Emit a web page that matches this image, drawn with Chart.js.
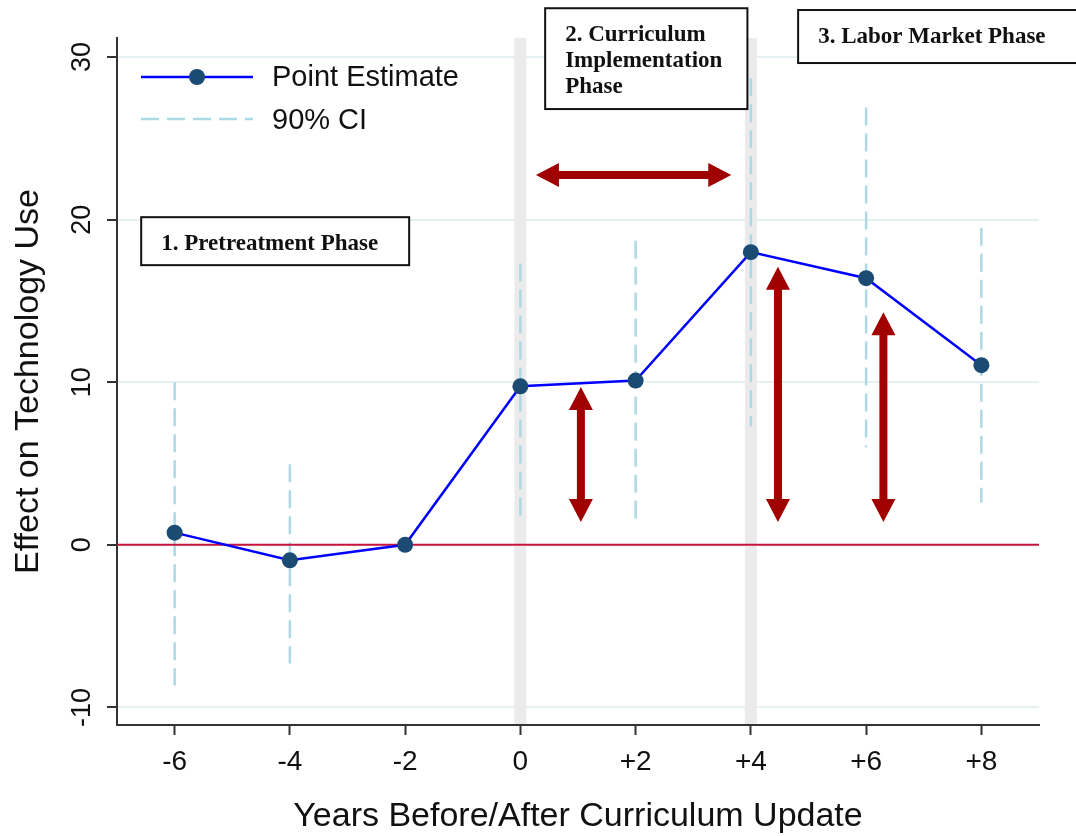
<!DOCTYPE html>
<html>
<head>
<meta charset="utf-8">
<script src="https://cdn.jsdelivr.net/npm/chart.js@4.4.0/dist/chart.umd.min.js"></script>
<style>
  html, body { margin: 0; padding: 0; background: #fff; }
  #wrap { width: 1076px; height: 836px; position: relative; }
</style>
</head>
<body>
<div id="wrap"><canvas id="eventChart"></canvas></div>
<script>
// ================= DATA =================
const years = [-6, -4, -2, 0, 2, 4, 6, 8];
const pointEstimate = [0.75, -0.95, 0, 9.75, 10.1, 18.0, 16.4, 11.05];
const ciLow = [-8.65, -7.3, null, 1.8, 1.6, 7.3, 6.0, 2.6];
const ciHigh = [10.0, 4.95, null, 17.3, 18.7, 28.7, 26.9, 19.5];
const xTicks = [-6, -4, -2, 0, 2, 4, 6, 8];
const yTicks = [-10, 0, 10, 20, 30];
const phaseBreaks = [0, 4];
const phaseLabels = [
  ["1. Pretreatment Phase"],
  ["2. Curriculum", "Implementation", "Phase"],
  ["3. Labor Market Phase"]
];

// ================= ANNOTATION PLACEMENT (data units) =================
const phaseBoxes = [
  { x1: -6.58, x2: -1.93, y1: 20.15, y2: 17.2 },
  { x1: 0.43, x2: 3.94, y1: 33.0, y2: 26.8 },
  { x1: 4.82, x2: 9.9, y1: 32.89, y2: 29.63 }
];
const vArrows = [
  { x: 1.05, from: 1.4, to: 9.7 },
  { x: 4.47, from: 1.4, to: 17.1 },
  { x: 6.3, from: 1.4, to: 14.3 }
];
const hArrow = { from: 0.27, to: 3.66, y: 22.74 };

const SANS = "'Liberation Sans', Arial, Helvetica, sans-serif";
const SERIF = "'Liberation Serif', 'Times New Roman', serif";

// ================= CI SEGMENTS =================
const ciPoints = [];
years.forEach((yr, i) => {
  if (ciLow[i] == null) return;
  ciPoints.push({ x: yr, y: ciHigh[i] }, { x: yr, y: ciLow[i] }, { x: yr, y: null });
});

// ================= HELPERS =================
function doubleArrow(ctx, x1, y1, x2, y2) {
  const len = Math.hypot(x2 - x1, y2 - y1);
  const ang = Math.atan2(y2 - y1, x2 - x1);
  const hl = 23, hw = 12, sw = 4;
  ctx.save();
  ctx.translate(x1, y1);
  ctx.rotate(ang);
  ctx.beginPath();
  ctx.moveTo(0, 0);
  ctx.lineTo(hl, -hw);
  ctx.lineTo(hl, -sw);
  ctx.lineTo(len - hl, -sw);
  ctx.lineTo(len - hl, -hw);
  ctx.lineTo(len, 0);
  ctx.lineTo(len - hl, hw);
  ctx.lineTo(len - hl, sw);
  ctx.lineTo(hl, sw);
  ctx.lineTo(hl, hw);
  ctx.closePath();
  ctx.fill();
  ctx.restore();
}

// ================= DECORATION PLUGIN =================
const decorPlugin = {
  id: "decor",
  beforeDatasetsDraw(chart) {
    const { ctx, chartArea, scales: { x } } = chart;
    ctx.save();
    ctx.fillStyle = "#ebebeb";
    phaseBreaks.forEach(v => {
      const px = x.getPixelForValue(v);
      ctx.fillRect(px - 6, chartArea.top, 12, chartArea.bottom - chartArea.top - 1);
    });
    ctx.restore();
  },
  afterDatasetDraw(chart, args) {
    // zero reference line sits above the CI dashes, below the estimate line
    if (args.index !== 1) return;
    const { ctx, chartArea, scales: { y } } = chart;
    const py = y.getPixelForValue(0);
    ctx.save();
    ctx.strokeStyle = "#c8143c";
    ctx.lineWidth = 2;
    ctx.beginPath();
    ctx.moveTo(chartArea.left, py);
    ctx.lineTo(chartArea.right, py);
    ctx.stroke();
    ctx.restore();
  },
  afterDatasetsDraw(chart) {
    const { ctx, chartArea, scales: { x, y } } = chart;
    ctx.save();

    // arrows
    ctx.fillStyle = "#a00000";
    vArrows.forEach(a => {
      const px = x.getPixelForValue(a.x);
      doubleArrow(ctx, px, y.getPixelForValue(a.to), px, y.getPixelForValue(a.from));
    });
    const hy = y.getPixelForValue(hArrow.y);
    doubleArrow(ctx, x.getPixelForValue(hArrow.from), hy, x.getPixelForValue(hArrow.to), hy);

    // phase boxes
    const lineOffsets = [33, 26];
    phaseBoxes.forEach((b, i) => {
      const l = x.getPixelForValue(b.x1), r = x.getPixelForValue(b.x2);
      const t = y.getPixelForValue(b.y1), btm = y.getPixelForValue(b.y2);
      ctx.fillStyle = "#ffffff";
      ctx.fillRect(l, t, r - l, btm - t);
      ctx.strokeStyle = "#111";
      ctx.lineWidth = 2;
      ctx.strokeRect(l, t, r - l, btm - t);
      ctx.fillStyle = "#111";
      ctx.font = "bold 23px " + SERIF;
      ctx.textAlign = "left";
      ctx.textBaseline = "alphabetic";
      phaseLabels[i].forEach((txt, k) => {
        ctx.fillText(txt, l + 20, t + lineOffsets[0] + k * lineOffsets[1]);
      });
    });

    // legend
    const lx = chartArea.left + 24;
    ctx.strokeStyle = "#0000ff";
    ctx.lineWidth = 2.5;
    ctx.beginPath();
    ctx.moveTo(lx, 77);
    ctx.lineTo(lx + 112, 77);
    ctx.stroke();
    ctx.fillStyle = "#1b4a72";
    ctx.beginPath();
    ctx.arc(lx + 56, 77, 8, 0, Math.PI * 2);
    ctx.fill();
    ctx.strokeStyle = "#add8e6";
    ctx.setLineDash([18, 8]);
    ctx.beginPath();
    ctx.moveTo(lx, 119);
    ctx.lineTo(lx + 112, 119);
    ctx.stroke();
    ctx.setLineDash([]);
    ctx.fillStyle = "#111";
    ctx.font = "29px " + SANS;
    ctx.textAlign = "left";
    ctx.textBaseline = "middle";
    ctx.fillText("Point Estimate", lx + 131, 78);
    ctx.fillText("90% CI", lx + 131, 121);
    ctx.restore();
  },
  afterDraw(chart) {
    // rotated y tick labels (Stata style)
    const { ctx, scales: { y } } = chart;
    ctx.save();
    ctx.fillStyle = "#111";
    ctx.font = "27px " + SANS;
    ctx.textAlign = "center";
    ctx.textBaseline = "middle";
    y.ticks.forEach(t => {
      ctx.save();
      ctx.translate(83, y.getPixelForValue(t.value));
      ctx.rotate(-Math.PI / 2);
      ctx.fillText(String(t.value), 0, 0);
      ctx.restore();
    });
    ctx.restore();
  }
};

// ================= CHART =================
new Chart(document.getElementById("eventChart"), {
  type: "line",
  data: {
    datasets: [
      {
        label: "Point Estimate",
        data: years.map((yr, i) => ({ x: yr, y: pointEstimate[i] })),
        borderColor: "#0000ff",
        borderWidth: 2.5,
        pointRadius: 8,
        pointHoverRadius: 8,
        pointBackgroundColor: "#1b4a72",
        pointBorderWidth: 0,
        tension: 0,
        order: 0
      },
      {
        label: "90% CI",
        data: ciPoints,
        borderColor: "#add8e6",
        borderWidth: 2.5,
        borderDash: [18, 8],
        pointRadius: 0,
        spanGaps: false,
        order: 2
      }
    ]
  },
  options: {
    responsive: true,
    maintainAspectRatio: false,
    animation: false,
    layout: { padding: { top: 38, right: 37, left: 0, bottom: 0 } },
    plugins: {
      legend: { display: false },
      tooltip: { enabled: false }
    },
    scales: {
      x: {
        type: "linear",
        min: -7,
        max: 9,
        afterBuildTicks: scale => { scale.ticks = xTicks.map(v => ({ value: v })); },
        afterFit: scale => { scale.height = 111; },
        grid: { drawOnChartArea: false, drawTicks: true, tickLength: 10, tickColor: "#333", tickWidth: 2 },
        border: { display: true, color: "#333", width: 2 },
        ticks: {
          font: { family: SANS, size: 28 },
          color: "#111",
          padding: 10,
          maxRotation: 0,
          autoSkip: false,
          callback: v => (v > 0 ? "+" + v : String(v))
        },
        title: {
          display: true,
          text: "Years Before/After Curriculum Update",
          font: { family: SANS, size: 34 },
          color: "#111",
          padding: { top: 0, bottom: -1 }
        }
      },
      y: {
        type: "linear",
        min: -11.08,
        max: 31.17,
        afterBuildTicks: scale => { scale.ticks = yTicks.map(v => ({ value: v })); },
        afterFit: scale => { scale.width = 117; },
        grid: { color: "#e6eff1", lineWidth: 2, drawTicks: true, tickLength: 10, tickColor: "#333", tickWidth: 2 },
        border: { display: true, color: "#333", width: 2 },
        ticks: { display: false },
        title: {
          display: true,
          text: "Effect on Technology Use",
          font: { family: SANS, size: 34 },
          color: "#111",
          padding: { top: 8, bottom: 0 }
        }
      }
    }
  },
  plugins: [decorPlugin]
});
</script>
</body>
</html>
